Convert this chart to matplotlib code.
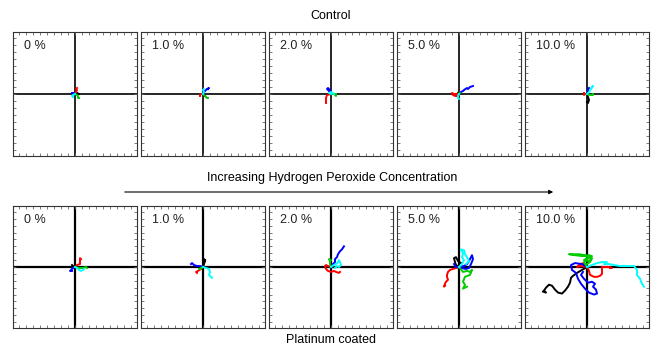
import numpy as np
import matplotlib
matplotlib.use('Agg')
import matplotlib.pyplot as plt
from matplotlib.ticker import MultipleLocator

plt.rcParams['font.family'] = ['Liberation Sans', 'DejaVu Sans']

labels = ['0 %', '1.0 %', '2.0 %', '5.0 %', '10.0 %']
colors = ['black', 'red', 'blue', '#00cc00', 'cyan']

# trajectories (x, y) per panel, order: black, red, blue, green, cyan
control = [
    [  # 0 %
        [(0, 0), (2, 1), (4, 0)],
        [(0, 0), (1, 2), (2, 4), (1, 5), (2, 6)],
        [(0, 0), (-1, 1), (-3, 1)],
        [(0, 0), (2, -1), (3, -2), (3, -4), (4, -4)],
        [(0, 0), (-2, -1), (-3, -2), (-2, -3)],
    ],
    [  # 1.0 %
        [(0, 0), (1, -1), (2, -2)],
        [(0, 0), (-2, 0), (-3, -1), (-3, -2)],
        [(0, 0), (2, 3), (4, 5), (6, 6), (5, 5)],
        [(0, 0), (2, -2), (3, -3), (4, -4), (5, -4)],
        [(0, 0), (1, 2), (0, 4), (1, 5)],
    ],
    [  # 2.0 %
        [(0, 0), (1, 1)],
        [(0, 0), (-4, -1), (-5, -4), (-5, -7), (-5, -9)],
        [(0, 0), (-2, 3), (-4, 5), (-3, 6), (-1, 4)],
        [(0, 0), (3, 0), (4, -1), (5, -2), (5, 0)],
        [(0, 0), (-2, 1), (0, 2), (2, 1), (3, 0)],
    ],
    [  # 5.0 %
        [(0, 0), (-1, 1)],
        [(0, 0), (-2, 0), (-5, 0), (-7, 1), (-6, -1), (-4, -2), (-2, -2)],
        [(0, 0), (2, 2), (4, 3), (5, 4), (8, 6), (9, 5), (11, 7), (14, 8)],
        [(0, 0), (1, 1)],
        [(0, 0), (-1, -2), (-1, -4), (0, -5)],
    ],
    [  # 10.0 %
        [(0, 0), (1, -3), (2, -6), (1, -9), (0, -8)],
        [(0, 0), (-2, 0), (-3, -1), (-3, 1)],
        [(0, 0), (1, 3), (1, 5), (2, 6)],
        [(0, 0), (3, -1), (6, -1), (6, 0)],
        [(0, 0), (2, 2), (4, 5), (6, 8), (5, 7)],
    ],
]

platinum = [
    [  # 0 %
        [(0, 0), (-2, 1), (-3, 2)],
        [(0, 0), (2, 2), (5, 3), (5, 6), (5, 9), (6, 8)],
        [(0, 0), (-2, -1), (-4, -3), (-5, -4), (-3, -4)],
        [(0, 0), (4, -1), (8, -1), (11, 0), (12, -1)],
        [(0, 0), (2, -1), (4, -3), (6, -4), (8, -3), (9, -2)],
    ],
    [  # 1.0 %
        [(0, 0), (1, 3), (2, 6), (1, 8), (2, 7)],
        [(0, 0), (-2, -2), (-5, -4), (-7, -5), (-6, -6)],
        [(0, 0), (-3, 1), (-6, 1), (-9, 2), (-11, 4), (-12, 3)],
        [(0, 0), (-2, -1), (-4, -2), (-3, -2)],
        [(0, 0), (3, -1), (6, -2), (7, -5), (6, -8), (8, -10), (9, -11)],
    ],
    [  # 2.0 %
        [(0, 0), (1, 1), (2, 0)],
        [(0, 0), (-3, 1), (-5, 2), (-6, 1), (-5, -2), (-3, -4), (0, -5),
         (3, -4), (5, -5), (8, -6), (9, -5)],
        [(0, 0), (2, 3), (4, 5), (4, 8), (6, 10), (7, 13), (9, 16), (11, 18),
         (13, 21)],
        [(0, 0), (-1, 3), (-1, 6), (-2, 8), (0, 7)],
        [(0, 0), (3, 2), (5, 3), (7, 5), (8, 7), (9, 5), (10, 2), (8, 0),
         (6, 1), (4, -1)],
    ],
    [  # 5.0 %
        [(0, 0), (-3, 2), (-4, 5), (-5, 9), (-3, 10), (-1, 6), (2, 4)],
        [(0, 0), (-3, -1), (-6, -2), (-9, -3), (-11, -5), (-12, -8),
         (-12, -10), (-11, -13), (-13, -15), (-14, -17), (-15, -20),
         (-14, -19)],
        [(0, 0), (5, 1), (8, 3), (10, 6), (12, 10), (13, 12), (14, 8),
         (12, 3), (10, -1), (7, -2), (2, -1), (-3, 0), (-5, 3)],
        [(0, 0), (4, -5), (8, -4), (11, -5), (13, -3), (11, -8), (6, -10),
         (4, -15), (6, -18), (4, -22), (8, -20)],
        [(0, 0), (3, 3), (5, 7), (3, 10), (4, 14), (2, 17), (2, 18), (5, 17),
         (6, 13), (8, 10), (9, 8), (10, 6), (7, 3)],
    ],
    [  # 10.0 %
        [(0, 0), (-5, -3), (-10, -6), (-14, -9), (-16, -11), (-17, -16),
         (-19, -20), (-22, -24), (-25, -27), (-29, -26), (-32, -23),
         (-35, -19), (-38, -18), (-41, -21), (-43, -24), (-41, -26),
         (-44, -25)],
        [(0, 0), (-6, 1), (-10, 0), (-7, 3), (-3, 4), (0, 0), (2, -4),
         (3, -8), (7, -10), (10, -10), (13, -9), (15, -7), (15, -2), (15, 0),
         (18, 0), (22, 0), (25, -1), (23, -1)],
        [(0, 0), (-5, 3), (-12, 4), (-16, 2), (-15, -3), (-11, -6),
         (-9, -12), (-6, -17), (-2, -22), (2, -26), (7, -28), (10, -27),
         (9, -23), (6, -20), (8, -17), (5, -15), (1, -16), (-3, -12),
         (-6, -8), (-4, -5)],
        [(0, 0), (-3, 5), (0, 8), (3, 10), (-2, 12), (-8, 13), (-14, 13),
         (-18, 13), (-12, 12), (-4, 11), (2, 12), (5, 11), (0, 9), (-3, 7),
         (2, 6), (5, 9), (3, 5), (0, 3)],
        [(0, 0), (5, 2), (10, 4), (15, 5), (20, 5), (17, 3), (22, 3),
         (27, 2), (33, 1), (40, 1), (47, 1), (50, -3), (50, -8), (53, -12),
         (55, -17), (57, -20)],
    ],
]

W, H = 664, 347
fig = plt.figure(figsize=(W / 100, H / 100), dpi=100)
lefts = [13, 141, 269, 397, 525]
lim = 62


def draw_panel(rect, tracks, label, lw_axis):
    ax = fig.add_axes(rect)
    ax.axhline(0, color='black', lw=lw_axis, zorder=1)
    ax.axvline(0, color='black', lw=lw_axis, zorder=1)
    for tr, c in zip(tracks, colors):
        pts = np.array(tr, dtype=float)
        ax.plot(pts[:, 0], pts[:, 1], color=c, lw=1.4, zorder=2)
    ax.set_xlim(-lim, lim)
    ax.set_ylim(-lim, lim)
    ax.xaxis.set_major_locator(MultipleLocator(7))
    ax.yaxis.set_major_locator(MultipleLocator(7))
    ax.tick_params(direction='in', length=2, width=0.6, color='#666666',
                   top=True, right=True, labelbottom=False, labelleft=False)
    for s in ax.spines.values():
        s.set_linewidth(0.8)
        s.set_color('#333333')
    ax.text(0.09, 0.86, label, transform=ax.transAxes, fontsize=9,
            color='#222222')
    return ax


for i in range(5):
    rect = [lefts[i] / W, (H - 156) / H, 124 / W, 124 / H]
    draw_panel(rect, control[i], labels[i], 1.2)
    rect = [lefts[i] / W, (H - 328) / H, 124 / W, 122 / H]
    draw_panel(rect, platinum[i], labels[i], 1.6)

fig.text(331 / W, 1 - 16 / H, 'Control', ha='center', va='center',
         fontsize=9)
fig.text(331 / W, 1 - 340 / H, 'Platinum coated', ha='center', va='center',
         fontsize=9)
fig.text(332 / W, 1 - 178 / H, 'Increasing Hydrogen Peroxide Concentration',
         ha='center', va='center', fontsize=9)
fig.add_artist(matplotlib.patches.FancyArrowPatch(
    (122 / W, 1 - 192 / H), (556 / W, 1 - 192 / H),
    transform=fig.transFigure, arrowstyle='-|>', mutation_scale=6,
    lw=0.8, color='black'))

fig.savefig('out.png', dpi=100)
